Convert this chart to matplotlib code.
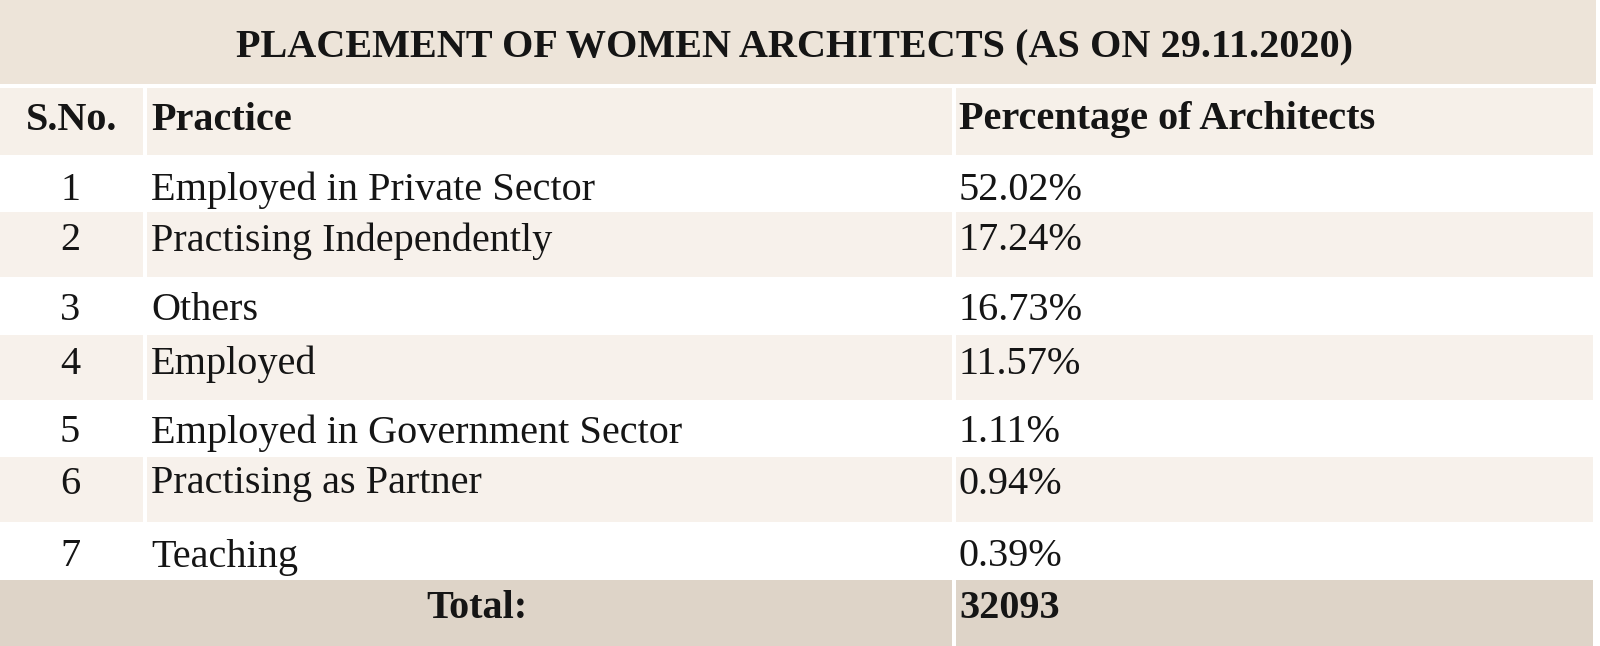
import matplotlib
matplotlib.use('Agg')
import matplotlib.pyplot as plt
from matplotlib.patches import Rectangle

# BEGIN: DATA ################################################################
title = 'PLACEMENT OF WOMEN ARCHITECTS (AS ON 29.11.2020)'
col_headers = ['S.No.', 'Practice', 'Percentage of Architects']
serial_nos = ['1', '2', '3', '4', '5', '6', '7']
practices = ['Employed in Private Sector',
             'Practising Independently',
             'Others',
             'Employed',
             'Employed in Government Sector',
             'Practising as Partner',
             'Teaching']
percentages = [52.02, 17.24, 16.73, 11.57, 1.11, 0.94, 0.39]
total_label = 'Total:'
total_value = 32093
# END:   DATA ################################################################

# BEGIN: LAYOUT ##############################################################
W, H = 1600, 646
right = 1593
col_x = [0, 145, 954, right]          # column edges
gap = 4                                # white gap between cells
title_band = (0, 84)
header_band = (88, 155)
row_edges = [155, 212, 277, 335, 400, 457, 522, 580]
total_band = (580, 646)
text_y_header = 120
text_y_rows = [190, 241, 311, 364, 433, 484, 557]
text_y_total = 609

c_title = '#ede4d9'
c_header = '#f6f0e9'
c_light = '#f7f1eb'
c_total = '#ded4c8'
c_text = '#151515'
fs = 29
font = 'Liberation Serif'
# END:   LAYOUT ##############################################################

fig = plt.figure(figsize=(W / 100, H / 100), dpi=100)
ax = fig.add_axes([0, 0, 1, 1])
ax.set_xlim(0, W)
ax.set_ylim(H, 0)
ax.axis('off')


def band(y0, y1, color, split=True):
    if split:
        for i in range(len(col_x) - 1):
            x0 = col_x[i] + (gap / 2 if i > 0 else 0)
            x1 = col_x[i + 1] - (gap / 2 if i < len(col_x) - 2 else 0)
            ax.add_patch(Rectangle((x0, y0), x1 - x0, y1 - y0,
                                   facecolor=color, edgecolor='none'))
    else:
        ax.add_patch(Rectangle((0, y0), right + 3, y1 - y0,
                               facecolor=color, edgecolor='none'))


# title band
band(*title_band, c_title, split=False)
ax.text(795, 48, title, ha='center', va='center', fontsize=fs,
        fontweight='bold', family=font, color=c_text)

# header
band(*header_band, c_header)
ax.text(72, text_y_header, col_headers[0], ha='center', va='center',
        fontsize=fs, fontweight='bold', family=font, color=c_text)
ax.text(151, text_y_header, col_headers[1], ha='left', va='center',
        fontsize=fs, fontweight='bold', family=font, color=c_text)
ax.text(959, text_y_header, col_headers[2], ha='left', va='center',
        fontsize=fs, fontweight='bold', family=font, color=c_text)

# body rows
for i, (sn, pr, pc) in enumerate(zip(serial_nos, practices, percentages)):
    y0, y1 = row_edges[i], row_edges[i + 1]
    if i % 2 == 1:
        band(y0, y1, c_light)
    ty = text_y_rows[i]
    ax.text(70, ty, sn, ha='center', va='center', fontsize=fs,
            family=font, color=c_text)
    ax.text(151, ty, pr, ha='left', va='center', fontsize=fs,
            family=font, color=c_text)
    ax.text(959, ty, f'{pc:.2f}%', ha='left', va='center', fontsize=fs,
            family=font, color=c_text)

# total row: first two columns merged
ax.add_patch(Rectangle((0, total_band[0]), col_x[2] - gap / 2,
                       total_band[1] - total_band[0],
                       facecolor=c_total, edgecolor='none'))
ax.add_patch(Rectangle((col_x[2] + gap / 2, total_band[0]),
                       right - col_x[2] - gap / 2,
                       total_band[1] - total_band[0],
                       facecolor=c_total, edgecolor='none'))
ax.text(col_x[2] / 2, text_y_total, total_label, ha='center', va='center',
        fontsize=fs, fontweight='bold', family=font, color=c_text)
ax.text(959, text_y_total, str(total_value), ha='left', va='center',
        fontsize=fs, fontweight='bold', family=font, color=c_text)

fig.savefig('out.png', dpi=100)
